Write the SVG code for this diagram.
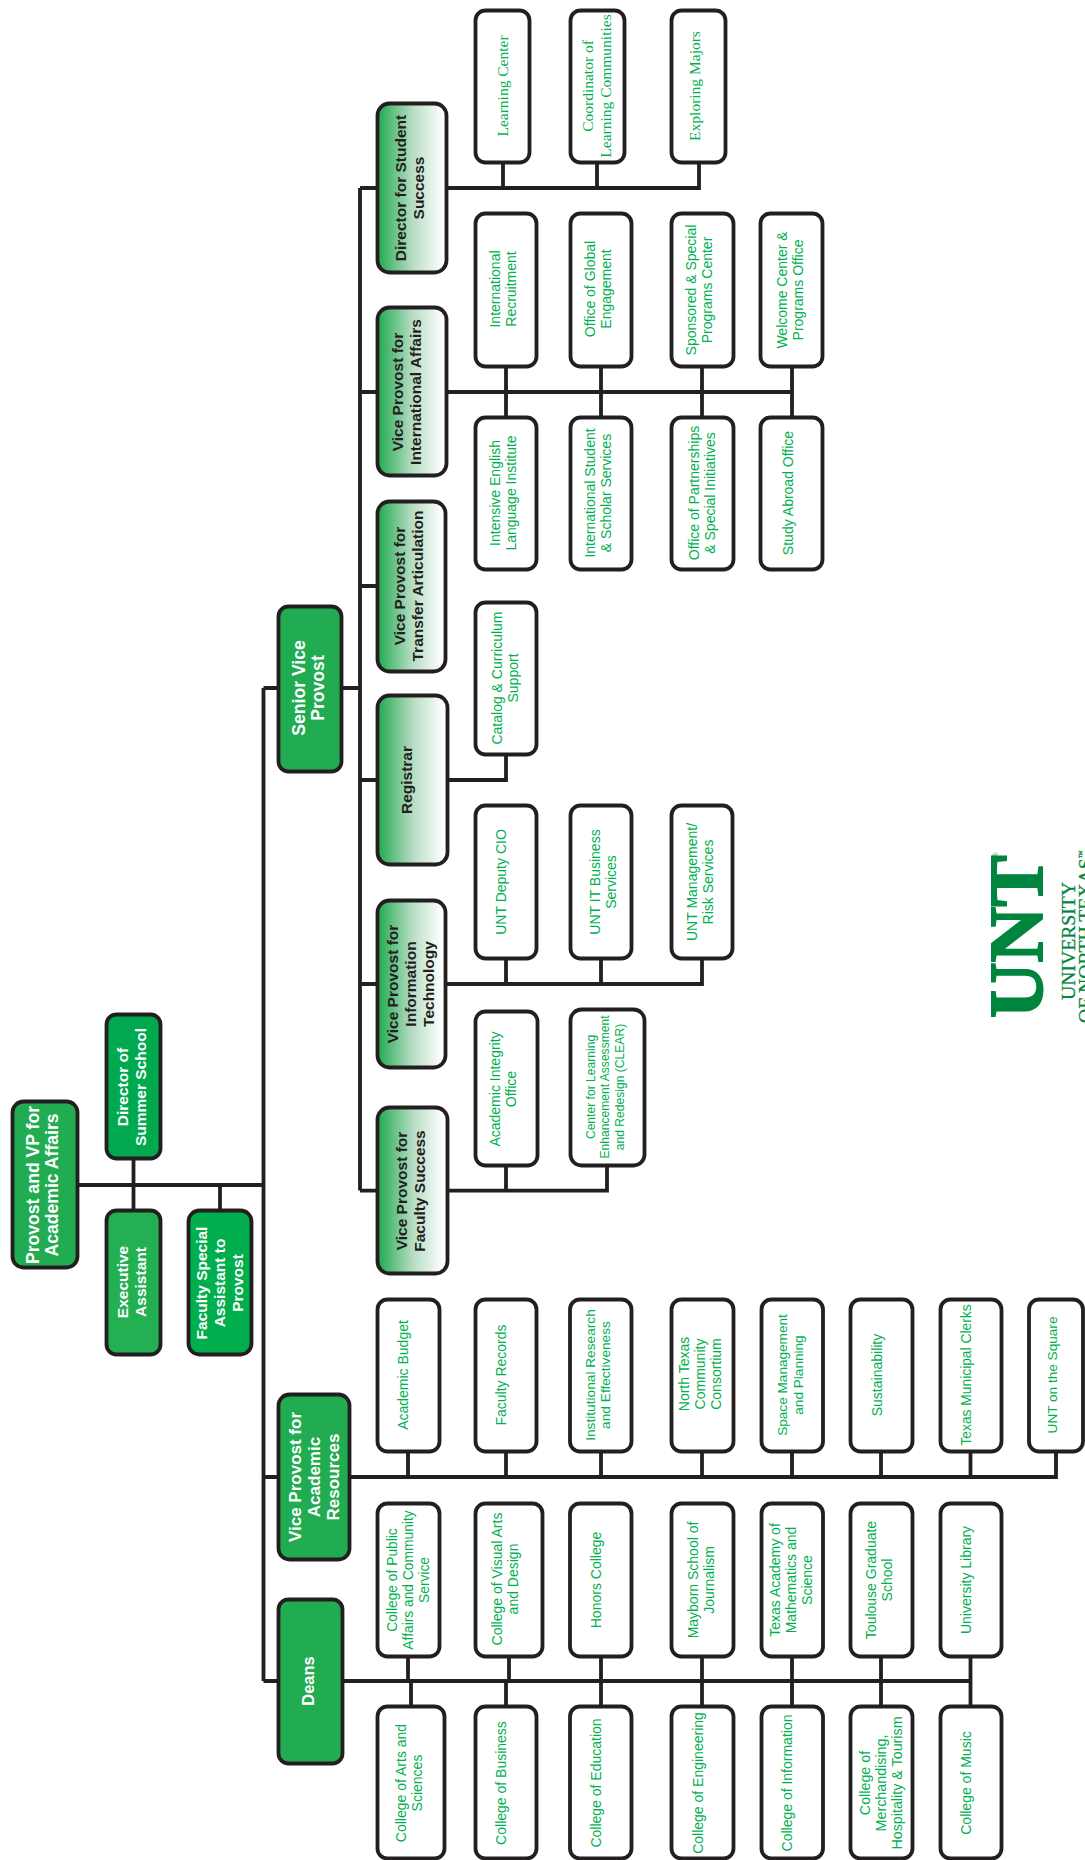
<svg xmlns="http://www.w3.org/2000/svg" width="1085" height="1860" viewBox="0 0 1085 1860">
<style>
.b{stroke:#231f20;stroke-width:3.8}
.leaf{fill:#fff}
.lt{font-family:"Liberation Sans",Arial,sans-serif;font-size:14px;fill:#00b050;text-anchor:middle}
.st{font-family:"Liberation Serif","Times New Roman",serif;font-size:15.5px;fill:#00b050;text-anchor:middle}
.ht{font-family:"Liberation Sans",Arial,sans-serif;font-weight:bold;font-size:15.5px;fill:#231f20;text-anchor:middle}
.wt{font-family:"Liberation Sans",Arial,sans-serif;font-weight:bold;font-size:15.5px;fill:#fff;text-anchor:middle}
.c{fill:none;stroke:#231f20;stroke-width:3.8}
.logo{font-family:"Liberation Serif","Times New Roman",serif;fill:#00853e;text-anchor:start}
</style>
<defs>
<linearGradient id="g" x1="0" y1="0" x2="1" y2="0"><stop offset="0" stop-color="#1fa94f"/><stop offset=".5" stop-color="#b5dcc2"/><stop offset=".95" stop-color="#fff"/></linearGradient>
</defs>
<rect width="1085" height="1860" fill="#fff"/>
<g id="connectors" class="c">
<path d="M78 1185H263.5M263.5 688V1681M133.5 1159V1210M220 1185V1210"/>
<path d="M263.5 688H278M342 688H360M360 188V1190.6M360 188H377M360 392H377M360 586H377M360 780H377M360 984H377M360 1190.6H377"/>
<path d="M447 188H699V163M503 188V163M597 188V163"/>
<path d="M447 392H792M506 367V417M601 367V417M702 367V417M792 367V417"/>
<path d="M448 780H506V755"/>
<path d="M446 984H702V959M506 984V959M601 984V959"/>
<path d="M448 1190.6H607V1166M506 1190.6V1166"/>
<path d="M263.5 1477H278M350 1477H1056V1452M408 1477V1452M506 1477V1452M601 1477V1452M702 1477V1452M792 1477V1452M881 1477V1452M970.5 1477V1452"/>
<path d="M263.5 1681H278M343 1681H970.5M408 1657V1681M411 1681V1706M509 1657V1681M506 1681V1706M601 1657V1706M702 1657V1706M792 1657V1706M881 1657V1706M970.5 1657V1706"/>
</g>
<g id="provost"><rect class="b" x="12.5" y="1101.5" width="65" height="166" rx="11" fill="#22ac52"/><text class="wt" style="font-size:17.6px" transform="translate(42 1185) rotate(-90)"><tspan x="0" y="-3.5">Provost and VP for</tspan><tspan x="0" y="15.5">Academic Affairs</tspan></text></g>
<g id="director-summer"><rect class="b" x="106.5" y="1014.5" width="54" height="144" rx="10" fill="#00a94f"/><text class="wt" transform="translate(131 1087) rotate(-90)"><tspan x="0" y="-3.5">Director of</tspan><tspan x="0" y="14.5">Summer School</tspan></text></g>
<g id="exec-assistant"><rect class="b" x="106.5" y="1210.5" width="54" height="144" rx="10" fill="#22b052"/><text class="wt" transform="translate(131 1282) rotate(-90)"><tspan x="0" y="-3.5">Executive</tspan><tspan x="0" y="14.5">Assistant</tspan></text></g>
<g id="faculty-special"><rect class="b" x="188.5" y="1210.5" width="63" height="144" rx="11" fill="#00ae4d"/><text class="wt" transform="translate(219.5 1283) rotate(-90)"><tspan x="0" y="-12.5">Faculty Special</tspan><tspan x="0" y="5.5">Assistant to</tspan><tspan x="0" y="23.5">Provost</tspan></text></g>
<g id="senior"><rect class="b" x="278.500" y="606.5" width="63" height="165" rx="10" fill="#22ac52"/><text class="wt" style="font-size:17.6px" transform="translate(308.500 688) rotate(-90)"><tspan x="0" y="-3.5">Senior Vice</tspan><tspan x="0" y="15.5">Provost</tspan></text></g>
<g id="vpar"><rect class="b" x="278.5" y="1394.5" width="71" height="165" rx="11" fill="#22ac52"/><text class="wt" style="font-size:17px" transform="translate(314 1477) rotate(-90)"><tspan x="0" y="-13">Vice Provost for</tspan><tspan x="0" y="6">Academic</tspan><tspan x="0" y="25">Resources</tspan></text></g>
<g id="deans"><rect class="b" x="278.5" y="1599.5" width="64" height="164" rx="10" fill="#22ac52"/><text class="wt" style="font-size:16.5px" transform="translate(307.5 1681) rotate(-90)"><tspan x="0" y="6">Deans</tspan></text></g>
<g id="dir-student"><rect class="b" x="377.5" y="103.5" width="69" height="169" rx="12" fill="url(#g)"/><text class="ht" transform="translate(409 188) rotate(-90)"><tspan x="0" y="-3.5">Director for Student</tspan><tspan x="0" y="14.5">Success</tspan></text></g>
<g id="vp-intl"><rect class="b" x="377.5" y="307.5" width="69" height="168" rx="12" fill="url(#g)"/><text class="ht" transform="translate(406 392) rotate(-90)"><tspan x="0" y="-3.5">Vice Provost for</tspan><tspan x="0" y="14.5">International Affairs</tspan></text></g>
<g id="vp-transfer"><rect class="b" x="377.5" y="501.5" width="68" height="170" rx="12" fill="url(#g)"/><text class="ht" transform="translate(408 586) rotate(-90)"><tspan x="0" y="-3.5">Vice Provost for</tspan><tspan x="0" y="14.5">Transfer Articulation</tspan></text></g>
<g id="registrar"><rect class="b" x="377.5" y="695.5" width="70" height="169" rx="12" fill="url(#g)"/><text class="ht" transform="translate(406 780) rotate(-90)"><tspan x="0" y="5.5">Registrar</tspan></text></g>
<g id="vp-it"><rect class="b" x="377.5" y="900.5" width="68" height="167" rx="12" fill="url(#g)"/><text class="ht" transform="translate(410 984) rotate(-90)"><tspan x="0" y="-12.5">Vice Provost for</tspan><tspan x="0" y="5.5">Information</tspan><tspan x="0" y="23.5">Technology</tspan></text></g>
<g id="vp-faculty"><rect class="b" x="377.5" y="1107.5" width="70" height="166" rx="12" fill="url(#g)"/><text class="ht" transform="translate(410 1191) rotate(-90)"><tspan x="0" y="-3.5">Vice Provost for</tspan><tspan x="0" y="14.5">Faculty Success</tspan></text></g>
<g id="learning-center"><rect class="b leaf" x="475.5" y="10.5" width="54" height="152" rx="10"/><text class="st" transform="translate(503 86) rotate(-90)"><tspan x="0" y="5">Learning Center</tspan></text></g>
<g id="coordinator"><rect class="b leaf" x="570.5" y="10.5" width="54" height="152" rx="10"/><text class="st" transform="translate(598 86) rotate(-90)"><tspan x="0" y="-5">Coordinator of</tspan><tspan x="0" y="13">Learning Communities</tspan></text></g>
<g id="exploring"><rect class="b leaf" x="671.5" y="10.5" width="54" height="152" rx="10"/><text class="st" transform="translate(695 86) rotate(-90)"><tspan x="0" y="5">Exploring Majors</tspan></text></g>
<g id="intl-recruitment"><rect class="b leaf" x="475.5" y="213.5" width="61" height="153" rx="10"/><text class="lt" transform="translate(503 289) rotate(-90)"><tspan x="0" y="-3">International</tspan><tspan x="0" y="13">Recruitment</tspan></text></g>
<g id="global"><rect class="b leaf" x="570.5" y="213.5" width="61" height="153" rx="10"/><text class="lt" transform="translate(598 289) rotate(-90)"><tspan x="0" y="-3">Office of Global</tspan><tspan x="0" y="13">Engagement</tspan></text></g>
<g id="sponsored"><rect class="b leaf" x="671.5" y="213.5" width="62" height="153" rx="10"/><text class="lt" transform="translate(699 290) rotate(-90)"><tspan x="0" y="-3">Sponsored &amp; Special</tspan><tspan x="0" y="13">Programs Center</tspan></text></g>
<g id="welcome"><rect class="b leaf" x="760.5" y="213.5" width="62" height="153" rx="10"/><text class="lt" transform="translate(790 290) rotate(-90)"><tspan x="0" y="-3">Welcome Center &amp;</tspan><tspan x="0" y="13">Programs Office</tspan></text></g>
<g id="intensive"><rect class="b leaf" x="475.5" y="417.5" width="61" height="152" rx="10"/><text class="lt" transform="translate(503 493) rotate(-90)"><tspan x="0" y="-3">Intensive English</tspan><tspan x="0" y="13">Language Institute</tspan></text></g>
<g id="intl-student"><rect class="b leaf" x="570.5" y="417.5" width="61" height="152" rx="10"/><text class="lt" transform="translate(598 493) rotate(-90)"><tspan x="0" y="-3">International Student</tspan><tspan x="0" y="13">&amp; Scholar Services</tspan></text></g>
<g id="partnerships"><rect class="b leaf" x="671.5" y="417.5" width="62" height="152" rx="10"/><text class="lt" transform="translate(702 493) rotate(-90)"><tspan x="0" y="-3">Office of Partnerships</tspan><tspan x="0" y="13">&amp; Special Initiatives</tspan></text></g>
<g id="study-abroad"><rect class="b leaf" x="760.5" y="417.5" width="62" height="152" rx="10"/><text class="lt" transform="translate(788 493) rotate(-90)"><tspan x="0" y="5">Study Abroad Office</tspan></text></g>
<g id="catalog"><rect class="b leaf" x="475.5" y="602.5" width="61" height="152" rx="10"/><text class="lt" transform="translate(505 678) rotate(-90)"><tspan x="0" y="-3">Catalog &amp; Curriculum</tspan><tspan x="0" y="13">Support</tspan></text></g>
<g id="deputy-cio"><rect class="b leaf" x="475.5" y="805.5" width="61" height="153" rx="10"/><text class="lt" transform="translate(501 882) rotate(-90)"><tspan x="0" y="5">UNT Deputy CIO</tspan></text></g>
<g id="it-business"><rect class="b leaf" x="570.5" y="805.5" width="61" height="153" rx="10"/><text class="lt" transform="translate(603 882) rotate(-90)"><tspan x="0" y="-3">UNT IT Business</tspan><tspan x="0" y="13">Services</tspan></text></g>
<g id="risk"><rect class="b leaf" x="671.5" y="805.5" width="61" height="153" rx="10"/><text class="lt" transform="translate(700 882) rotate(-90)"><tspan x="0" y="-3">UNT Management/</tspan><tspan x="0" y="13">Risk Services</tspan></text></g>
<g id="integrity"><rect class="b leaf" x="475.5" y="1011.5" width="62" height="154" rx="10"/><text class="lt" transform="translate(503 1089) rotate(-90)"><tspan x="0" y="-3">Academic Integrity</tspan><tspan x="0" y="13">Office</tspan></text></g>
<g id="clear"><rect class="b leaf" x="570.5" y="1009.5" width="74" height="156" rx="11"/><text class="lt" style="font-size:12.1px" transform="translate(605 1087) rotate(-90)"><tspan x="0" y="-10.5">Center for Learning</tspan><tspan x="0" y="4">Enhancement Assessment</tspan><tspan x="0" y="18.5">and Redesign (CLEAR)</tspan></text></g>
<g id="academic-budget"><rect class="b leaf" x="377.5" y="1299.5" width="62" height="152" rx="10"/><text class="lt" transform="translate(403 1375) rotate(-90)"><tspan x="0" y="5">Academic Budget</tspan></text></g>
<g id="faculty-records"><rect class="b leaf" x="475.5" y="1299.5" width="61" height="152" rx="10"/><text class="lt" transform="translate(501 1375) rotate(-90)"><tspan x="0" y="5">Faculty Records</tspan></text></g>
<g id="inst-research"><rect class="b leaf" x="570" y="1299.5" width="61.500" height="152" rx="10"/><text class="lt" style="font-size:13.7px" transform="translate(598 1375) rotate(-90)"><tspan x="0" y="-3">Institutional Research</tspan><tspan x="0" y="12">and Effectiveness</tspan></text></g>
<g id="ntcc"><rect class="b leaf" x="671.5" y="1299.5" width="62" height="152" rx="10"/><text class="lt" transform="translate(700 1374) rotate(-90)"><tspan x="0" y="-11">North Texas</tspan><tspan x="0" y="5">Community</tspan><tspan x="0" y="21">Consortium</tspan></text></g>
<g id="space"><rect class="b leaf" x="761.5" y="1299.5" width="61.500" height="152" rx="10"/><text class="lt" style="font-size:13.6px" transform="translate(790 1375) rotate(-90)"><tspan x="0" y="-3">Space Management</tspan><tspan x="0" y="13">and Planning</tspan></text></g>
<g id="sustainability"><rect class="b leaf" x="850.5" y="1299.5" width="62" height="152" rx="10"/><text class="lt" transform="translate(877 1375) rotate(-90)"><tspan x="0" y="5">Sustainability</tspan></text></g>
<g id="clerks"><rect class="b leaf" x="940.5" y="1299.5" width="61" height="152" rx="10"/><text class="lt" style="font-size:13.8px" transform="translate(966 1375) rotate(-90)"><tspan x="0" y="5">Texas Municipal Clerks</tspan></text></g>
<g id="square"><rect class="b leaf" x="1029" y="1299.5" width="54" height="152" rx="10"/><text class="lt" style="font-size:13.6px" transform="translate(1052 1375) rotate(-90)"><tspan x="0" y="5">UNT on the Square</tspan></text></g>
<g id="public-affairs"><rect class="b leaf" x="377.5" y="1503.5" width="62" height="153" rx="10"/><text class="lt" style="font-size:13.8px" transform="translate(408 1580) rotate(-90)"><tspan x="0" y="-11">College of Public</tspan><tspan x="0" y="5">Affairs and Community</tspan><tspan x="0" y="21">Service</tspan></text></g>
<g id="visual-arts"><rect class="b leaf" x="475.5" y="1503.5" width="67" height="153" rx="10"/><text class="lt" transform="translate(504.5 1579) rotate(-90)"><tspan x="0" y="-3">College of Visual Arts</tspan><tspan x="0" y="13">and Design</tspan></text></g>
<g id="honors"><rect class="b leaf" x="570" y="1503.5" width="61.500" height="153" rx="10"/><text class="lt" transform="translate(596 1580) rotate(-90)"><tspan x="0" y="5">Honors College</tspan></text></g>
<g id="mayborn"><rect class="b leaf" x="671.5" y="1503.5" width="62" height="153" rx="10"/><text class="lt" transform="translate(700.500 1580) rotate(-90)"><tspan x="0" y="-3">Mayborn School of</tspan><tspan x="0" y="13">Journalism</tspan></text></g>
<g id="tams"><rect class="b leaf" x="761.5" y="1503.5" width="61.500" height="153" rx="10"/><text class="lt" transform="translate(791 1580) rotate(-90)"><tspan x="0" y="-11">Texas Academy of</tspan><tspan x="0" y="5">Mathematics and</tspan><tspan x="0" y="21">Science</tspan></text></g>
<g id="toulouse"><rect class="b leaf" x="850.5" y="1503.5" width="62" height="153" rx="10"/><text class="lt" transform="translate(879 1580) rotate(-90)"><tspan x="0" y="-3">Toulouse Graduate</tspan><tspan x="0" y="13">School</tspan></text></g>
<g id="library"><rect class="b leaf" x="940.5" y="1503.5" width="61" height="153" rx="10"/><text class="lt" transform="translate(966 1580) rotate(-90)"><tspan x="0" y="5">University Library</tspan></text></g>
<g id="arts-sciences"><rect class="b leaf" x="377.5" y="1706.5" width="67" height="152" rx="10"/><text class="lt" transform="translate(409 1783) rotate(-90)"><tspan x="0" y="-3">College of Arts and</tspan><tspan x="0" y="13">Sciences</tspan></text></g>
<g id="business"><rect class="b leaf" x="475.5" y="1706.5" width="61" height="152" rx="10"/><text class="lt" transform="translate(501 1783) rotate(-90)"><tspan x="0" y="5">College of Business</tspan></text></g>
<g id="education"><rect class="b leaf" x="570" y="1706.5" width="61.500" height="152" rx="10"/><text class="lt" transform="translate(596 1783) rotate(-90)"><tspan x="0" y="5">College of Education</tspan></text></g>
<g id="engineering"><rect class="b leaf" x="671.5" y="1706.5" width="62" height="152" rx="10"/><text class="lt" transform="translate(698 1783) rotate(-90)"><tspan x="0" y="5">College of Engineering</tspan></text></g>
<g id="information"><rect class="b leaf" x="761.5" y="1706.5" width="61.500" height="152" rx="10"/><text class="lt" transform="translate(787 1783) rotate(-90)"><tspan x="0" y="5">College of Information</tspan></text></g>
<g id="merchandising"><rect class="b leaf" x="850.5" y="1706.5" width="62" height="152" rx="10"/><text class="lt" style="font-size:14.3px" transform="translate(881 1783) rotate(-90)"><tspan x="0" y="-11">College of</tspan><tspan x="0" y="5">Merchandising,</tspan><tspan x="0" y="21">Hospitality &amp; Tourism</tspan></text></g>
<g id="music"><rect class="b leaf" x="940.5" y="1706.5" width="61" height="152" rx="10"/><text class="lt" transform="translate(966 1783) rotate(-90)"><tspan x="0" y="5">College of Music</tspan></text></g>
<g id="logo">
<text class="logo" font-weight="bold" font-size="77" stroke="#00853e" stroke-width="2" transform="translate(1042 1018) rotate(-90)">UNT</text>
<text class="logo" font-size="9" transform="translate(998 859) rotate(-90)">®</text>
<text class="logo" font-size="19.7" stroke="#00853e" stroke-width=".3" transform="translate(1075 1000) rotate(-90)">UNIVERSITY</text>
<text class="logo" font-size="19.7" stroke="#00853e" stroke-width=".3" transform="translate(1092 1023) rotate(-90)">OF NORTH TEXAS<tspan font-size="8" dy="-8">™</tspan></text>
</g>
</svg>
